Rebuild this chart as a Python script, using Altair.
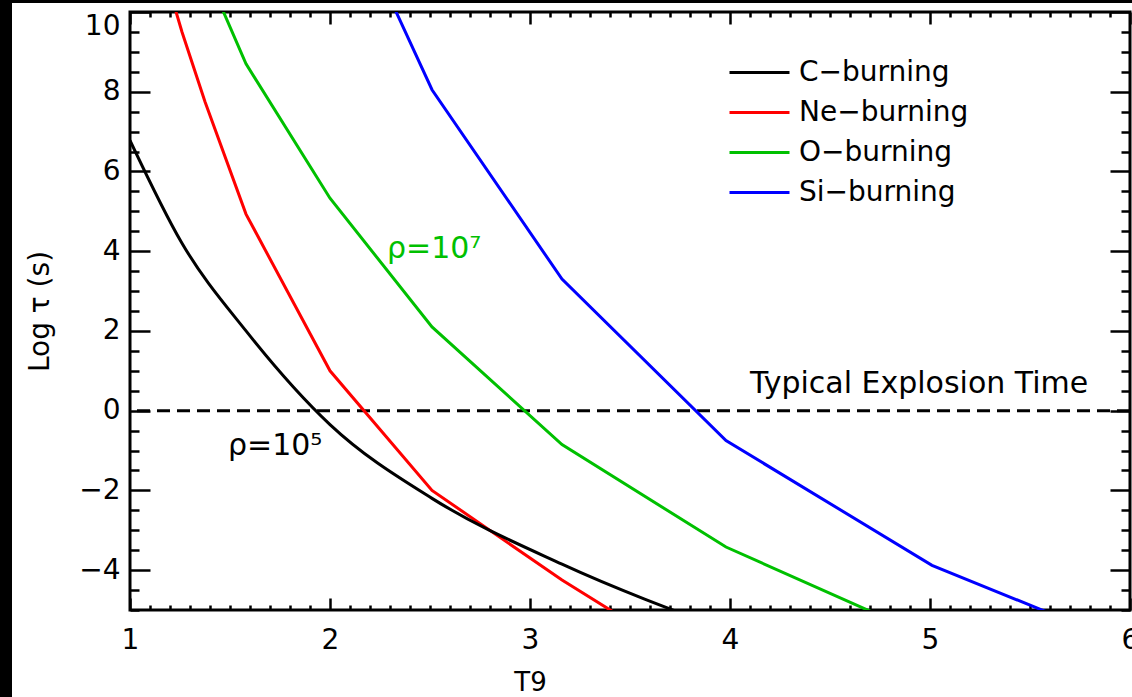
import altair as alt
import pandas as pd

# ---------------- data ----------------
series_names = ["C\u2212burning", "Ne\u2212burning", "O\u2212burning", "Si\u2212burning"]
series_colors = ["#000000", "#ff0000", "#00c000", "#0000ff"]

c_T = [1.0, 1.26, 1.58, 2.0, 2.51, 3.16, 3.98]
c_logtau = [6.78, 4.2, 2.0, -0.35, -2.2, -3.85, -5.5]

ne_T = [1.0, 1.26, 1.375, 1.58, 2.0, 2.51, 3.16, 3.98]
ne_logtau = [13.9, 9.5, 7.75, 4.93, 1.0, -2.0, -4.25, -6.8]

o_T = [1.26, 1.58, 2.0, 2.51, 3.16, 3.98, 5.01]
o_logtau = [12.4, 8.7, 5.33, 2.1, -0.85, -3.42, -5.72]

si_T = [2.0, 2.51, 3.16, 3.98, 5.01, 6.31]
si_logtau = [13.6, 8.05, 3.3, -0.75, -3.88, -6.53]

explosion_logtau = [0.0]

ann_text = ["\u03c1=10\u2075", "\u03c1=10\u2077", "Typical Explosion Time"]
ann_T = [1.49, 2.285, 4.1]
ann_logtau = [-1.12, 3.83, 0.45]
ann_color = ["#000000", "#00c000", "#000000"]

x_major = [1, 2, 3, 4, 5, 6]
y_major = [-4, -2, 0, 2, 4, 6, 8, 10]
x_all_ticks = [round(1 + 0.1 * i, 1) for i in range(51)]
y_all_ticks = [round(-5 + 0.5 * i, 1) for i in range(31)]

# ---------------- tables ----------------
rows = []
for name, ts, vs in zip(series_names, [c_T, ne_T, o_T, si_T],
                        [c_logtau, ne_logtau, o_logtau, si_logtau]):
    for t, v in zip(ts, vs):
        rows.append({"series": name, "T": t, "logtau": v})
curves = pd.DataFrame(rows)
curves_c = curves[curves["series"] == series_names[0]]
curves_rest = curves[curves["series"] != series_names[0]]
ann = pd.DataFrame({"text": ann_text, "T": ann_T, "logtau": ann_logtau, "color": ann_color})
hline = pd.DataFrame({"logtau": explosion_logtau})
one = pd.DataFrame({"a": [0]})

W, H = 1000, 598
FONT = "DejaVu Sans"
xs = alt.Scale(domain=[1, 6], nice=False, zero=False)
ys = alt.Scale(domain=[-5, 10], nice=False, zero=False)

def tick_size(major_test, big, small):
    return {"condition": {"test": major_test, "value": big}, "value": small}

x_major_test = "abs(datum.value - round(datum.value)) < 0.001"
y_major_test = "abs(datum.value / 2 - round(datum.value / 2)) < 0.001"

def x_tick_axis(orient, offset):
    return alt.Axis(orient=orient, offset=offset, values=x_all_ticks, labels=False,
                    domain=False, grid=False, title=None, tickColor="black",
                    tickWidth=2.5, tickSize=tick_size(x_major_test, 12, 5))

def y_tick_axis(orient, offset):
    return alt.Axis(orient=orient, offset=offset, values=y_all_ticks, labels=False,
                    domain=False, grid=False, title=None, tickColor="black",
                    tickWidth=2.5, tickSize=tick_size(y_major_test, 20, 9))

legend = alt.Legend(title=None, orient="none", legendX=608, legendY=39,
                    symbolType="M-1.5,0H1.5", symbolSize=1600,
                    symbolStrokeWidth=3, labelFontSize=28,
                    labelFont=FONT, labelOffset=18, rowPadding=4,
                    labelLimit=400, padding=0, labelColor="black")
color_enc = alt.Color("series:N", sort=series_names,
                      scale=alt.Scale(domain=series_names, range=series_colors),
                      legend=legend)

# ---------------- layers ----------------
lines = alt.Chart(curves_rest).mark_line(clip=True, strokeWidth=3).encode(
    x=alt.X("T:Q", scale=xs, axis=alt.Axis(
        values=x_major, ticks=False, domain=False, grid=False, format="d",
        labelFontSize=28, labelPadding=16, labelFlush=False, title="T9",
        titleFontSize=26, titleFontWeight="normal", titleX=400, titleY=59)),
    y=alt.Y("logtau:Q", scale=ys, axis=alt.Axis(
        values=y_major, ticks=False, domain=False, grid=False, format="d",
        labelFontSize=28, labelPadding=10, labelFlush=True, title="Log \u03c4 (s)",
        titleFontSize=28, titleFontWeight="normal", titlePadding=24)),
    color=color_enc,
)

line_c = alt.Chart(curves_c).mark_line(clip=True, strokeWidth=3, interpolate="monotone").encode(
    x=alt.X("T:Q", scale=xs, axis=None),
    y=alt.Y("logtau:Q", scale=ys, axis=None),
    color=color_enc,
)

ticks_a = alt.Chart(curves).mark_point(opacity=0, clip=True).encode(
    x=alt.X("T:Q", scale=xs, axis=x_tick_axis("top", -H)),
    y=alt.Y("logtau:Q", scale=ys, axis=y_tick_axis("right", -W)),
)
ticks_b = alt.Chart(curves).mark_point(opacity=0, clip=True).encode(
    x=alt.X("T:Q", scale=xs, axis=x_tick_axis("bottom", -H)),
    y=alt.Y("logtau:Q", scale=ys, axis=y_tick_axis("left", -W)),
)

dash = alt.Chart(hline).mark_rule(strokeDash=[13, 7], strokeWidth=3, color="black").encode(
    y=alt.Y("logtau:Q", scale=ys, axis=None)
)

texts = alt.Chart(ann).mark_text(align="left", baseline="alphabetic", fontSize=30,
                                 font=FONT).encode(
    x=alt.X("T:Q", scale=xs, axis=None),
    y=alt.Y("logtau:Q", scale=ys, axis=None),
    text="text:N",
    color=alt.Color("color:N", scale=None, legend=None),
)

# black screenshot border (left and top strips)
strip_left = alt.Chart(one).mark_rect(color="black").encode(
    x=alt.value(-130), x2=alt.value(-118), y=alt.value(-12), y2=alt.value(H + 87))
strip_top = alt.Chart(one).mark_rect(color="black").encode(
    x=alt.value(-130), x2=alt.value(W + 2), y=alt.value(-12), y2=alt.value(-9))

chart = alt.layer(strip_left, strip_top, dash, lines, line_c, texts, ticks_a, ticks_b).resolve_axis(
    x="independent", y="independent"
).properties(
    width=W, height=H,
    autosize=alt.AutoSizeParams(type="none"),
    padding={"left": 130, "top": 12, "right": 2, "bottom": 87},
    background="white",
).configure_view(stroke="black", strokeWidth=3).configure_axis(
    labelFont=FONT, titleFont=FONT, labelColor="black", titleColor="black"
).configure_legend(labelFont=FONT)

chart.save("out.html", embed_options={"renderer": "svg", "actions": False})
